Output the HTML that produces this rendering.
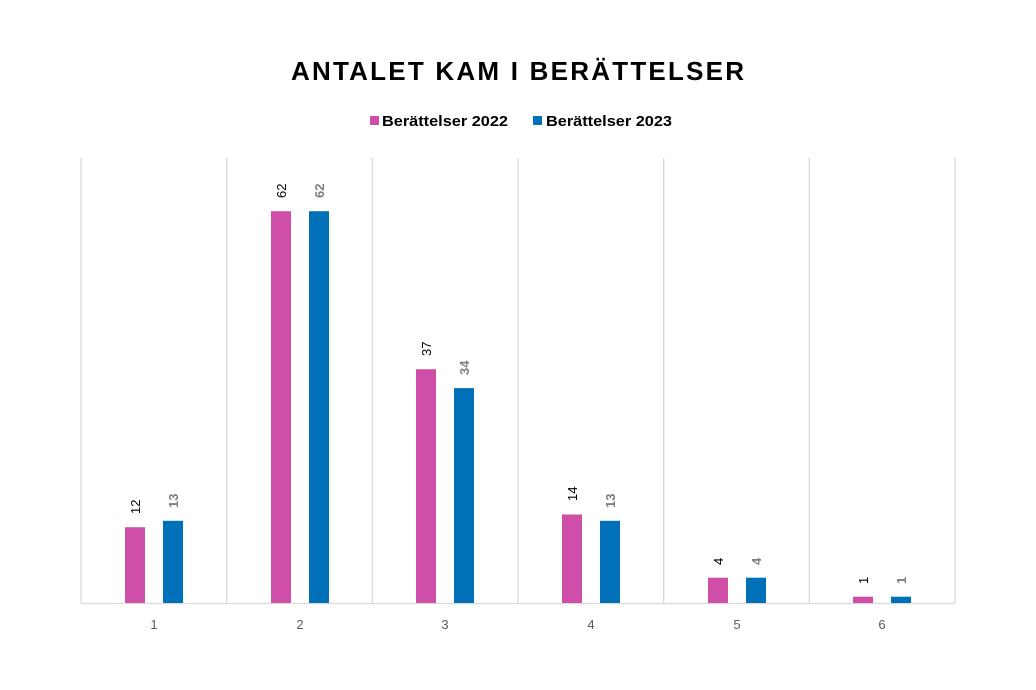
<!DOCTYPE html>
<html><head><meta charset="utf-8"><style>html,body{margin:0;padding:0;background:#fff}svg{display:block}</style></head>
<body>
<svg width="1036" height="690" viewBox="0 0 1036 690" xmlns="http://www.w3.org/2000/svg" font-family="Liberation Sans, sans-serif">
<rect width="1036" height="690" fill="#fff"/>
<text x="291" y="80" font-size="26" font-weight="bold" fill="#000" textLength="453" lengthAdjust="spacing">ANTALET KAM I BERÄTTELSER</text>
<rect x="370" y="116" width="9" height="9" fill="#CF4FA8"/>
<text x="382" y="126" font-size="15" font-weight="bold" fill="#000" textLength="126" lengthAdjust="spacingAndGlyphs">Berättelser 2022</text>
<rect x="533" y="116" width="9" height="9" fill="#0070B8"/>
<text x="546" y="126" font-size="15" font-weight="bold" fill="#000" textLength="126" lengthAdjust="spacingAndGlyphs">Berättelser 2023</text>
<g stroke="#D9D9D9" stroke-width="1.3">
<line x1="81" y1="158" x2="81" y2="603"/>
<line x1="226.7" y1="158" x2="226.7" y2="603"/>
<line x1="372.3" y1="158" x2="372.3" y2="603"/>
<line x1="518" y1="158" x2="518" y2="603"/>
<line x1="663.7" y1="158" x2="663.7" y2="603"/>
<line x1="809.3" y1="158" x2="809.3" y2="603"/>
<line x1="955" y1="158" x2="955" y2="603"/>
<line x1="81" y1="603.5" x2="955" y2="603.5"/>
</g>
<g fill="#CF4FA8">
<rect x="125" y="527.2" width="20" height="75.8"/>
<rect x="271" y="211.2" width="20" height="391.8"/>
<rect x="416" y="369.2" width="20" height="233.8"/>
<rect x="562" y="514.5" width="20" height="88.5"/>
<rect x="708" y="577.7" width="20" height="25.3"/>
<rect x="853" y="596.7" width="20" height="6.3"/>
</g>
<g fill="#0070B8">
<rect x="163" y="520.8" width="20" height="82.2"/>
<rect x="309" y="211.2" width="20" height="391.8"/>
<rect x="454" y="388.1" width="20" height="214.9"/>
<rect x="600" y="520.8" width="20" height="82.2"/>
<rect x="746" y="577.7" width="20" height="25.3"/>
<rect x="891" y="596.7" width="20" height="6.3"/>
</g>
<g font-size="13" fill="#000">
<text transform="translate(140,514) rotate(-90)">12</text>
<text transform="translate(286,198) rotate(-90)">62</text>
<text transform="translate(431,356) rotate(-90)">37</text>
<text transform="translate(577,501) rotate(-90)">14</text>
<text transform="translate(723,565) rotate(-90)">4</text>
<text transform="translate(868,584) rotate(-90)">1</text>
</g>
<g font-size="13" font-weight="bold" fill="#7F7F7F">
<text transform="translate(178,508) rotate(-90)">13</text>
<text transform="translate(324,198) rotate(-90)">62</text>
<text transform="translate(469,375) rotate(-90)">34</text>
<text transform="translate(615,508) rotate(-90)">13</text>
<text transform="translate(761,565) rotate(-90)">4</text>
<text transform="translate(906,584) rotate(-90)">1</text>
</g>
<g font-size="13" fill="#595959" text-anchor="middle">
<text x="154" y="629">1</text>
<text x="300" y="629">2</text>
<text x="445" y="629">3</text>
<text x="591" y="629">4</text>
<text x="737" y="629">5</text>
<text x="882" y="629">6</text>
</g>
</svg>
</body></html>
